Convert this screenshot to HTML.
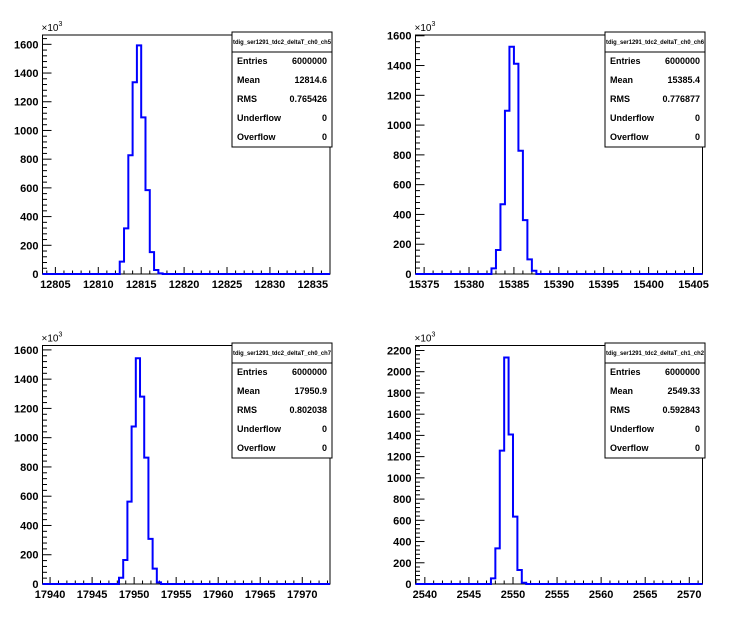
<!DOCTYPE html>
<html><head><meta charset="utf-8"><style>
html,body{margin:0;padding:0;background:#fff;}
svg{display:block;font-family:"Liberation Sans",Arial,sans-serif;}
</style></head><body>
<svg id="c" width="746" height="622" viewBox="0 0 746 622"></svg>
<script>
// Pad 1: tdig_ser1291_tdc2_deltaT_ch0_ch5
const p1Edge = 12812.5;
const p1Values = [86, 318, 827, 1336, 1593, 1091, 584, 152, 28, 4];
const p1XTicks = [12805, 12810, 12815, 12820, 12825, 12830, 12835];
const p1YTicks = [0, 200, 400, 600, 800, 1000, 1200, 1400, 1600];
const p1Stats = ["6000000", "12814.6", "0.765426", "0", "0"];
// Pad 2: ch0_ch6
const p2Edge = 15382.5;
const p2Values = [38, 161, 468, 1096, 1526, 1412, 828, 362, 98, 22];
const p2XTicks = [15375, 15380, 15385, 15390, 15395, 15400, 15405];
const p2YTicks = [0, 200, 400, 600, 800, 1000, 1200, 1400, 1600];
const p2Stats = ["6000000", "15385.4", "0.776877", "0", "0"];
// Pad 3: ch0_ch7
const p3Edge = 17948.2;
const p3Values = [43, 164, 563, 1076, 1543, 1281, 864, 308, 105, 11];
const p3XTicks = [17940, 17945, 17950, 17955, 17960, 17965, 17970];
const p3YTicks = [0, 200, 400, 600, 800, 1000, 1200, 1400, 1600];
const p3Stats = ["6000000", "17950.9", "0.802038", "0", "0"];
// Pad 4: ch1_ch2
const p4Edge = 2547.5;
const p4Values = [53, 336, 1257, 2134, 1408, 635, 132, 12];
const p4XTicks = [2540, 2545, 2550, 2555, 2560, 2565, 2570];
const p4YTicks = [0, 200, 400, 600, 800, 1000, 1200, 1400, 1600, 1800, 2000, 2200];
const p4Stats = ["6000000", "2549.33", "0.592843", "0", "0"];
const statNames = ["Entries", "Mean", "RMS", "Underflow", "Overflow"];

const NS = "http://www.w3.org/2000/svg";
const svg = document.getElementById("c");
function mk(tag, attrs, parent, name) {
  const e = document.createElementNS(NS, tag);
  for (const k in attrs) e.setAttribute(k, attrs[k]);
  (parent || svg).appendChild(e);
  return e;
}

function pad(cfg) {
  const g = mk("g", {});
  
  
  const {L, R, T, B, xmin, xmax, ymax} = cfg;
  const sx = v => L + (v - xmin) / (xmax - xmin) * (R - L);
  const sy = v => B - v / ymax * (B - T);
  // frame
  const fr = mk("rect", {x: L, y: T, width: R - L, height: B - T, fill: "none", stroke: "#000", "stroke-width": 1}, g);
  
  
  // y ticks
  const yStep = cfg.yTicks[1] - cfg.yTicks[0];
  for (let v = 0; v <= ymax + 1e-9; v += yStep / 5) {
    const major = Math.abs(v / yStep - Math.round(v / yStep)) < 1e-6;
    const y = sy(v);
    const t = mk("line", {x1: L, x2: L + (major ? 9 : 4.5), y1: y, y2: y, stroke: "#000", "stroke-width": 1}, g);
    
    
  }
  cfg.yTicks.forEach(v => {
    const t = mk("text", {x: L - 4, y: sy(v) + 4, "text-anchor": "end", "font-size": 11, "font-weight": "bold"}, g);
    t.textContent = v;
    
    
  });
  const ex = mk("text", {x: L - 1, y: T - 4, "font-size": 10}, g);
  ex.textContent = "\u00d710";
  
  
  const sup = mk("tspan", {dy: -5, "font-size": 7}, ex);
  sup.textContent = "3";
  // x ticks
  const xStep = cfg.xTicks[1] - cfg.xTicks[0];
  const x0 = Math.ceil(xmin);
  for (let v = x0; v <= xmax; v += 1) {
    const major = v % xStep === 0;
    const x = sx(v);
    const t = mk("line", {x1: x, x2: x, y1: B, y2: B - (major ? 7 : 3.5), stroke: "#000", "stroke-width": 1}, g);
    
    
  }
  cfg.xTicks.forEach(v => {
    const t = mk("text", {x: sx(v), y: B + 14, "text-anchor": "middle", "font-size": 11, "font-weight": "bold"}, g);
    t.textContent = v;
    
    
  });
  // histogram
  let d = "M" + L + "," + B + " L" + sx(cfg.edge) + "," + B;
  cfg.values.forEach((v, i) => {
    const xa = sx(cfg.edge + i * 0.5), xb = sx(cfg.edge + (i + 1) * 0.5);
    d += " L" + xa + "," + sy(v) + " L" + xb + "," + sy(v);
  });
  d += " L" + sx(cfg.edge + cfg.values.length * 0.5) + "," + B + " L" + R + "," + B;
  const h = mk("path", {d: d, fill: "none", stroke: "#0000ff", "stroke-width": 2}, g);
  
  
  // stats box
  const sb = mk("g", {}, g);
  
  
  const bx = cfg.sx, by = cfg.sy, bw = 100, bh = 115;
  mk("rect", {x: bx, y: by, width: bw, height: bh, fill: "#fff", stroke: "#000", "stroke-width": 1}, sb);
  mk("line", {x1: bx, x2: bx + bw, y1: by + 20, y2: by + 20, stroke: "#000", "stroke-width": 1}, sb);
  const tt = mk("text", {x: bx + bw / 2, y: by + 12, "text-anchor": "middle", "font-size": 6, "font-weight": "bold", textLength: 98, lengthAdjust: "spacingAndGlyphs"}, sb);
  tt.textContent = cfg.title;
  
  
  statNames.forEach((n, i) => {
    const y = by + 32 + i * 19;
    const a = mk("text", {x: bx + 5, y: y, "font-size": 9, "font-weight": "bold"}, sb);
    a.textContent = n;
    
    
    const b = mk("text", {x: bx + bw - 5, y: y, "text-anchor": "end", "font-size": 9, "font-weight": "bold"}, sb);
    b.textContent = cfg.stats[i];
    
    
  });
}

pad({name: "pad-ch0-ch5", L: 42.5, R: 330, T: 35, B: 274, xmin: 12803.5, xmax: 12837.0, ymax: 1665,
  edge: p1Edge, values: p1Values, xTicks: p1XTicks, yTicks: p1YTicks, stats: p1Stats,
  sx: 232, sy: 32, title: "tdig_ser1291_tdc2_deltaT_ch0_ch5"});
pad({name: "pad-ch0-ch6", L: 415.5, R: 702.5, T: 35, B: 274, xmin: 15374.04, xmax: 15406.0, ymax: 1605,
  edge: p2Edge, values: p2Values, xTicks: p2XTicks, yTicks: p2YTicks, stats: p2Stats,
  sx: 605, sy: 32, title: "tdig_ser1291_tdc2_deltaT_ch0_ch6"});
pad({name: "pad-ch0-ch7", L: 42.5, R: 330, T: 345.5, B: 584, xmin: 17939.1, xmax: 17973.3, ymax: 1630,
  edge: p3Edge, values: p3Values, xTicks: p3XTicks, yTicks: p3YTicks, stats: p3Stats,
  sx: 232, sy: 343, title: "tdig_ser1291_tdc2_deltaT_ch0_ch7"});
pad({name: "pad-ch1-ch2", L: 415.5, R: 702.5, T: 345.5, B: 584, xmin: 2538.94, xmax: 2571.5, ymax: 2247,
  edge: p4Edge, values: p4Values, xTicks: p4XTicks, yTicks: p4YTicks, stats: p4Stats,
  sx: 605, sy: 343, title: "tdig_ser1291_tdc2_deltaT_ch1_ch2"});
</script>
</body></html>
